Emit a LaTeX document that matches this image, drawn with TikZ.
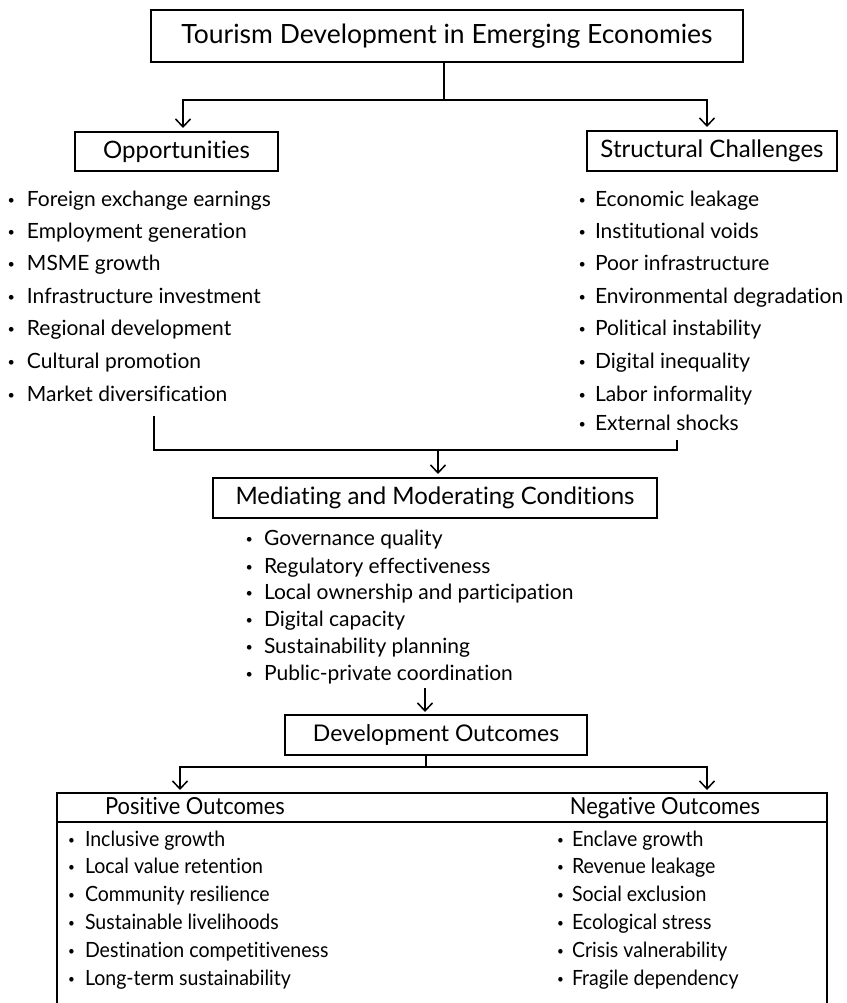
\documentclass[tikz,border=0pt]{standalone}
\usepackage{fontspec}
\usepackage{graphicx}
\setmainfont{Lato}[Ligatures={NoCommon,NoRequired,NoContextual}]
\newfontfamily\narrowfont{Lato}[FakeStretch=0.93,Ligatures={NoCommon,NoRequired,NoContextual}]
\usetikzlibrary{arrows.meta}
\newcommand\mybul[1]{\llap{\raisebox{0.12em}{\scalebox{0.6}{•}}\hspace{#1}}}
\begin{document}
\begin{tikzpicture}[x=1pt,y=-1pt,
  every node/.style={inner sep=0pt, outer sep=0pt},
  boxed/.style={draw, line width=1.5pt, rectangle},
  conn/.style={line width=1.5pt},
  arr/.style={line width=1.5pt, -{Straight Barb[length=8pt,width=15pt,line width=1.5pt]}},
  ttl/.style={font=\fontsize{26.5}{30}\selectfont},
  hdr/.style={font=\fontsize{24}{28}\selectfont},
  item/.style={anchor=mid west, font=\fontsize{21}{24}\selectfont},
  bitem/.style={anchor=mid west, font=\narrowfont\fontsize{21}{24}\selectfont},
  bhdr/.style={anchor=base, font=\narrowfont\fontsize{23.5}{27}\selectfont}
]
\useasboundingbox (0,0) rectangle (846,1003);

% boxes
\node[boxed, ttl, minimum width=592pt, minimum height=52pt] (top) at (447,36) {Tourism Development in Emerging Economies};
\node[boxed, hdr, minimum width=203pt, minimum height=39pt] (opp) at (176.5,151.5) {Opportunities};
\node[boxed, hdr, minimum width=250pt, minimum height=40pt] (sc) at (712,151) {Structural Challenges};
\node[boxed, hdr, minimum width=444pt, minimum height=40pt] (med) at (435,498) {Mediating and Moderating Conditions};
\node[boxed, hdr, font=\fontsize{23}{27}\selectfont, minimum width=302pt, minimum height=40pt] (dev) at (436,735) {Development Outcomes};

% lists
\foreach \y/\t [count=\i] in {204/Foreign exchange earnings, 236/Employment generation, 268/MSME growth, 301/Infrastructure investment, 333/Regional development, 366/Cultural promotion, 399/Market diversification}
  \node[item] (o\i) at (27,\y) {\mybul{12pt}\t};
\foreach \y/\t [count=\i] in {204/Economic leakage, 236/Institutional voids, 268/Poor infrastructure, 301/Environmental degradation, 333/Political instability, 366/Digital inequality, 399/Labor informality, 428/External shocks}
  \node[item] (c\i) at (595,\y) {\mybul{9pt}\t};
\foreach \y/\t [count=\i] in {543/Governance quality, 571/Regulatory effectiveness, 597/Local ownership and participation, 624/Digital capacity, 651/Sustainability planning, 678/Public-private coordination}
  \node[item] (m\i) at (264,\y) {\mybul{11pt}\t};

% outcome frame
\coordinate (fl) at (57,793);
\coordinate (fr) at (827,793);
\coordinate (fbl) at (57,1003);
\coordinate (fbr) at (827,1003);
\coordinate (hl) at (57,822);
\coordinate (hr) at (827,822);
\draw[conn] (fbl) -- (fl) -- (fr) -- (fbr);
\draw[conn] (hl) -- (hr);
\node[bhdr] (pos) at (195,814) {Positive Outcomes};
\node[bhdr] (neg) at (665,814) {Negative Outcomes};
\foreach \y/\t [count=\i] in {844/Inclusive growth, 871/Local value retention, 899/Community resilience, 927/Sustainable livelihoods, 955/Destination competitiveness, 983/Long-term sustainability}
  \node[bitem] (p\i) at (85,\y) {\mybul{10pt}\t};
\foreach \y/\t [count=\i] in {844/Enclave growth, 871/Revenue leakage, 899/Social exclusion, 927/Ecological stress, 955/Crisis valnerability, 983/Fragile dependency}
  \node[bitem] (n\i) at (572,\y) {\mybul{8pt}\t};

% connectors
\coordinate (j1) at (444,100);
\draw[conn] (j1 |- top.south) -- (j1);
\draw[arr, shorten >=4pt] (j1) -| ([xshift=6.5pt]opp.north);
\draw[arr, shorten >=4pt] (j1) -| ([xshift=-5pt]sc.north);

\coordinate (la) at (154,416);
\coordinate (ra) at (677,440);
\coordinate (jm) at (438,450);
\draw[conn] (la) |- (jm) -| (ra);
\draw[arr, shorten >=4pt] (jm) -- (jm |- med.north);

\coordinate (ma) at (425,688);
\draw[arr, shorten >=3pt] (ma) -- (ma |- dev.north);

\coordinate (jd) at (426,767);
\coordinate (pa) at (180,793);
\coordinate (na) at (707,793);
\draw[conn] (jd |- dev.south) -- (jd);
\draw[arr, shorten >=3pt] (jd) -| (pa);
\draw[arr, shorten >=3pt] (jd) -| (na);
\end{tikzpicture}
\end{document}
